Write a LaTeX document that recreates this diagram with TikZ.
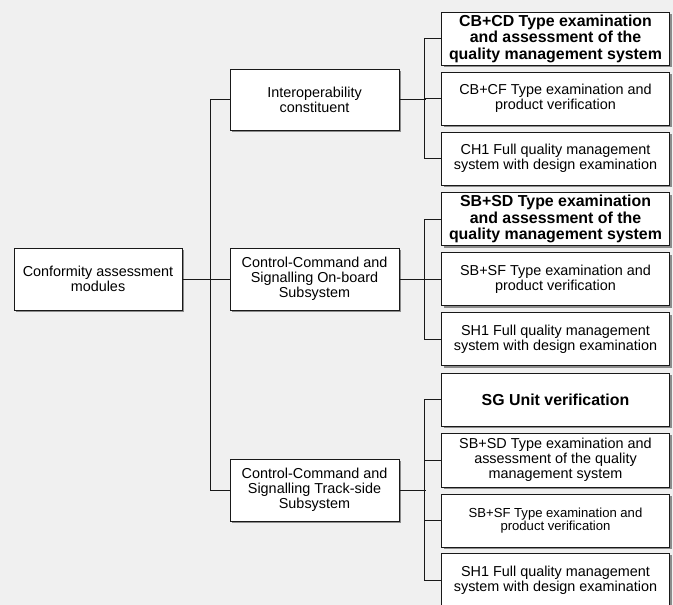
\documentclass[tikz,border=0pt]{standalone}
\usepackage{fontspec}
\setmainfont{Liberation Sans}
\usetikzlibrary{shadows}
\definecolor{bg}{RGB}{240,240,240}
\definecolor{edge}{RGB}{25,25,25}
\tikzset{
  box/.style={draw=edge, fill=white, line width=1pt, inner sep=0pt, align=center,
    font=\fontsize{14.4}{14.8}\selectfont,
    drop shadow={shadow xshift=2.4pt, shadow yshift=-2.4pt, fill=black!55, opacity=0.8}},
  midbox/.style={box, minimum width=169pt, minimum height=62pt},
  leaf/.style={box, minimum width=228pt, minimum height=53pt},
  boldleaf/.style={leaf, font=\fontsize{15.9}{16.5}\selectfont\bfseries},
  smallleaf/.style={leaf, font=\fontsize{13.1}{13.2}\selectfont},
  link/.style={draw=edge, line width=1pt}
}
\begin{document}
\begin{tikzpicture}[x=1pt, y=-1pt]
\fill[bg] (0,0) rectangle (673,605);
\useasboundingbox (0,0) rectangle (673,605);

% root
\node[box, minimum width=168pt, minimum height=62pt] (root) at (98,279)
  {Conformity assessment\\modules};

% middle level
\node[midbox, minimum height=61pt] (interop) at (314.5,99.5) {Interoperability\\constituent};
\node[midbox] (onboard) at (314.5,279) {Control-Command and\\Signalling On-board\\Subsystem};
\node[midbox] (track) at (314.5,490) {Control-Command and\\Signalling Track-side\\Subsystem};

% group 1
\node[boldleaf] (cbcd) at (555.5,38.5) {CB+CD Type examination\\and assessment of the\\quality management system};
\node[leaf] (cbcf) at (555.5,98.5) {CB+CF Type examination and\\product verification};
\node[leaf] (ch1) at (555.5,158.5) {CH1 Full quality management\\system with design examination};

% group 2
\node[boldleaf] (sbsd) at (555.5,219) {SB+SD Type examination\\and assessment of the\\quality management system};
\node[leaf] (sbsf) at (555.5,279.3) {SB+SF Type examination and\\product verification};
\node[leaf] (sh1) at (555.5,339) {SH1 Full quality management\\system with design examination};

% group 3
\node[boldleaf] (sg) at (555.5,399.5) {SG Unit verification};
\node[leaf, minimum height=54pt] (tsbsd) at (555.5,460) {SB+SD Type examination and\\assessment of the quality\\management system};
\node[smallleaf] (tsbsf) at (555.5,520.5) {SB+SF Type examination and\\product verification};
\node[leaf, minimum height=54pt] (tsh1) at (555.5,580) {SH1 Full quality management\\system with design examination};

% trunk
\coordinate (t) at (210.5,279);
\draw[link] (interop.west) -| (t) |- (track.west);
\draw[link] (root.east) -- (onboard.west);

% group connectors
\draw[link] (interop.east) -- ++(26,0);
\draw[link] (cbcd.west) -- ++(-16.5,0) |- (ch1.west);
\draw[link] (cbcf.west) -- ++(-16.5,0);

\draw[link] (onboard.east) -- ++(26,0);
\draw[link] (sbsd.west) -- ++(-16.5,0) |- (sh1.west);
\draw[link] (sbsf.west) -- ++(-16.5,0);

\draw[link] (track.east) -- ++(26,0);
\draw[link] (sg.west) -- ++(-16.5,0) |- (tsh1.west);
\draw[link] (tsbsd.west) -- ++(-16.5,0);
\draw[link] (tsbsf.west) -- ++(-16.5,0);
\end{tikzpicture}
\end{document}
